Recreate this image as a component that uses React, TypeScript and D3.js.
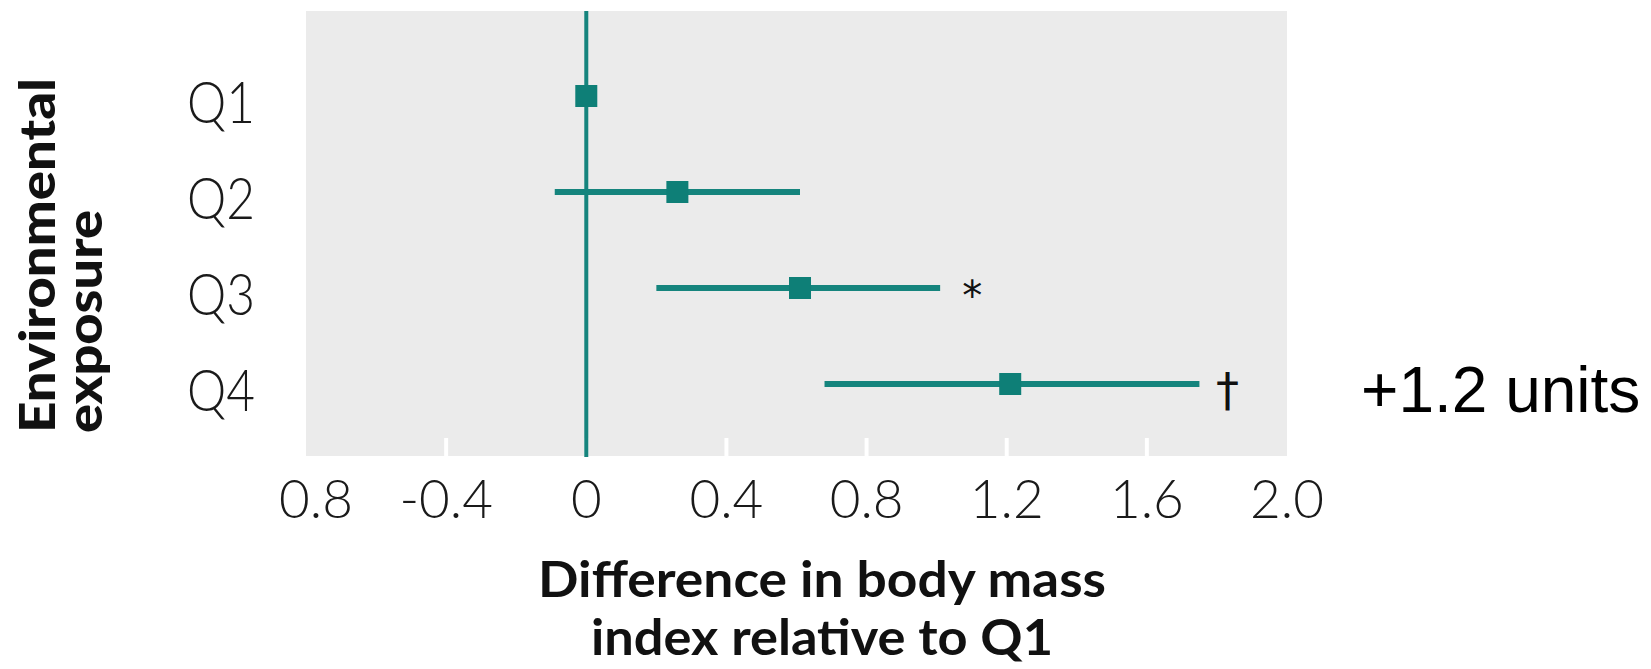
import React from "react";
import * as d3 from "d3";

const categories = ["Q1", "Q2", "Q3", "Q4"];
const estimates = [0, 0.26, 0.61, 1.21];
const lowerCI = [0, -0.09, 0.2, 0.68];
const upperCI = [0, 0.61, 1.01, 1.75];
const significance = ["", "", "*", "†"];
const tickValues = [-0.8, -0.4, 0, 0.4, 0.8, 1.2, 1.6, 2.0];
const tickLabels = ["0.8", "-0.4", "0", "0.4", "0.8", "1.2", "1.6", "2.0"];
const yTitle = ["Environmental", "exposure"];
const xTitle = ["Difference in body mass", "index relative to Q1"];
const annotation = "+1.2 units";

const W = 1651;
const H = 669;
const panel = { left: 306, right: 1287, top: 11, bottom: 456 };
const TEAL = "#15847d";
const TEAL_DARK = "#0e7f77";

export default function App() {
  const x = d3.scaleLinear().domain([-0.8, 2.0]).range([panel.left, panel.right]);
  const y = d3.scalePoint<string>().domain(categories).range([96, 384]);

  return (
    <svg
      width={W}
      height={H}
      viewBox={`0 0 ${W} ${H}`}
      style={{ position: "absolute", left: 0, top: 0, background: "#ffffff" }}
    >
      <rect x={0} y={0} width={W} height={H} fill="#ffffff" />
      <rect
        x={panel.left}
        y={panel.top}
        width={panel.right - panel.left}
        height={panel.bottom - panel.top}
        fill="#ebebeb"
      />
      {/* short white gridline ticks at panel bottom */}
      {tickValues
        .filter((v) => v > -0.8 && v < 2.0)
        .map((v) => (
          <line
            key={"g" + v}
            x1={x(v)}
            x2={x(v)}
            y1={panel.bottom - 18}
            y2={panel.bottom}
            stroke="#ffffff"
            strokeWidth={4}
          />
        ))}
      {/* zero line */}
      <line
        x1={x(0)}
        x2={x(0)}
        y1={panel.top}
        y2={panel.bottom + 1}
        stroke={TEAL}
        strokeWidth={4}
      />
      {/* CIs and markers */}
      {categories.map((c, i) => (
        <g key={c}>
          {upperCI[i] > lowerCI[i] && (
            <line
              x1={x(lowerCI[i])}
              x2={x(upperCI[i])}
              y1={y(c)!}
              y2={y(c)!}
              stroke={TEAL}
              strokeWidth={6}
            />
          )}
          <rect
            x={x(estimates[i]) - 11}
            y={y(c)! - 11}
            width={22}
            height={22}
            fill={TEAL_DARK}
          />
          {significance[i] && (
            <text
              x={x(upperCI[i]) + (significance[i] === "*" ? 32 : 28)}
              y={y(c)! + 22}
              textAnchor="middle"
              fontFamily="'DejaVu Sans', sans-serif"
              fontSize={significance[i] === "*" ? 40 : 46}
              fill="#111111"
            >
              {significance[i]}
            </text>
          )}
          <text
            x={187}
            y={y(c)! + 27}
            fontFamily="Lato, 'Open Sans', sans-serif"
            fontWeight={300}
            fontSize={57}
            fill="#1a1a1a"
            textLength={68}
            lengthAdjust="spacingAndGlyphs"
          >
            {c}
          </text>
        </g>
      ))}
      {/* x tick labels */}
      {tickValues.map((v, i) => (
        <text
          key={"t" + i}
          x={x(v) + (i === 0 ? 10 : 0)}
          y={518}
          textAnchor="middle"
          fontFamily="Lato, 'Open Sans', sans-serif"
          fontWeight={300}
          fontSize={53}
          fill="#1a1a1a"
        >
          {tickLabels[i]}
        </text>
      ))}
      {/* x title */}
      {xTitle.map((t, i) => (
        <text
          key={"xt" + i}
          x={822}
          y={597 + i * 58}
          textAnchor="middle"
          fontFamily="Lato, 'Open Sans', sans-serif"
          fontWeight={700}
          fontSize={50}
          fill="#111111"
          textLength={i === 0 ? 568 : 462}
          lengthAdjust="spacingAndGlyphs"
        >
          {t}
        </text>
      ))}
      {/* y title */}
      {yTitle.map((t, i) => (
        <text
          key={"yt" + i}
          transform={`translate(${55 + i * 47}, 433) rotate(-90)`}
          fontFamily="Lato, 'Open Sans', sans-serif"
          fontWeight={900}
          fontSize={50}
          fill="#111111"
          textLength={i === 0 ? 355 : 223}
          lengthAdjust="spacingAndGlyphs"
        >
          {t}
        </text>
      ))}
      {/* annotation */}
      <text
        x={1361}
        y={412}
        fontFamily="'Liberation Sans', Arial, sans-serif"
        fontSize={64}
        fill="#000000"
      >
        {annotation}
      </text>
    </svg>
  );
}
